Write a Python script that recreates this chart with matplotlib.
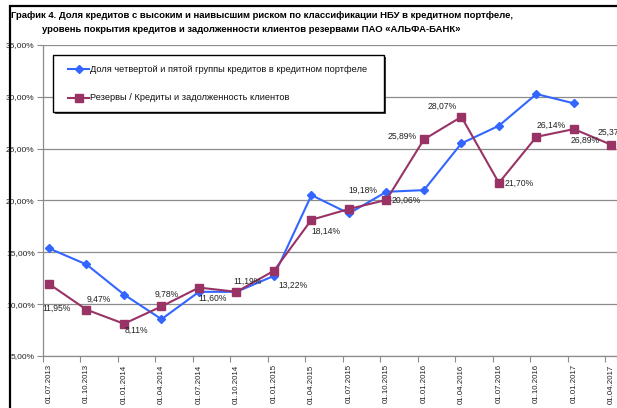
import matplotlib
matplotlib.use("Agg")
import matplotlib.pyplot as plt
from matplotlib.patches import Rectangle
from matplotlib.ticker import FixedLocator

plt.rcParams['font.family'] = ['Liberation Sans Narrow', 'Liberation Sans', 'DejaVu Sans']

# ---- data ----
dates = ["01.07.2013", "01.10.2013", "01.01.2014", "01.04.2014", "01.07.2014",
         "01.10.2014", "01.01.2015", "01.04.2015", "01.07.2015", "01.10.2015",
         "01.01.2016", "01.04.2016", "01.07.2016", "01.10.2016", "01.01.2017",
         "01.04.2017"]
share_45 = [15.38, 13.83, 10.93, 8.55, 11.19, 11.19, 12.73, 20.52, 18.75, 20.84,
            21.00, 25.51, 27.21, 30.27, 29.37]
reserves = [11.95, 9.47, 8.11, 9.78, 11.60, 11.19, 13.22, 18.14, 19.18, 20.06,
            25.89, 28.07, 21.70, 26.14, 26.89, 25.37]
series_names = ["Доля четвертой и пятой группы кредитов в кредитном портфеле",
                "Резервы / Кредиты и задолженность клиентов"]
title_lines = ["График 4. Доля кредитов с высоким и наивысшим риском по классификации НБУ в кредитном портфеле,",
               "уровень покрытия кредитов и задолженности клиентов резервами ПАО «АЛЬФА-БАНК»"]
y_ticks = [5, 10, 15, 20, 25, 30, 35]

# label offsets (pixels) for reserve data labels
lab_dx = [8, 12.5, 12, 5.5, 14, 11.5, 19, 14.5, 14, 19.5, -22, -19.5, 20, 14.5, 11, -13.5]
lab_dy = [-24, 10.7, -7, 12.5, -11, 11, -15, -12, 19, 0, 3, 11, 0, 12, -11, 13]

W, H = 617, 408
fig = plt.figure(figsize=(W / 100, H / 100), dpi=100)
ax = fig.add_axes([43 / W, (H - 356) / H, (W - 43) / W, (356 - 45) / H])

blue = '#3366FF'
purple = '#993366'
x1 = list(range(len(share_45)))
x2 = list(range(len(reserves)))
l1, = ax.plot(x1, share_45, color=blue, lw=1.5, marker='D', ms=4.5, zorder=3,
              clip_on=False, label=series_names[0])
l2, = ax.plot(x2, reserves, color=purple, lw=1.5, marker='s', ms=5.2, zorder=3,
              clip_on=False, label=series_names[1])

for i, v in enumerate(reserves):
    txt = f"{v:.2f}".replace('.', ',') + '%'
    ha = 'left' if i == len(reserves) - 1 else 'center'
    ax.annotate(txt, (i, v), xytext=(lab_dx[i], lab_dy[i]), textcoords='offset pixels',
                ha=ha, va='center', fontsize=6.2, color='#222222', annotation_clip=False)

ax.set_ylim(5, 35)
ax.set_xlim(-0.16, 15.15)
ax.set_yticks(y_ticks)
ax.set_yticklabels([f"{t:.2f}".replace('.', ',') + '%' for t in y_ticks], fontsize=6, color='#222222')
ax.yaxis.grid(True, color='#8c8c8c', lw=0.9)
ax.set_axisbelow(True)
ax.tick_params(axis='y', length=4, width=0.8, color='#8c8c8c', pad=2)

ax.set_xticks(x2)
ax.set_xticklabels(dates, rotation=90, fontsize=5.7, color='#222222')
ax.tick_params(axis='x', which='major', length=0, pad=6)
ax.xaxis.set_minor_locator(FixedLocator([k - 0.16 for k in range(16)]))
ax.tick_params(axis='x', which='minor', length=4, width=0.8, color='#8c8c8c')

for s in ['top', 'right']:
    ax.spines[s].set_visible(False)
ax.spines['left'].set_color('#8c8c8c')
ax.spines['bottom'].set_color('#8c8c8c')
ax.spines['left'].set_linewidth(0.9)
ax.spines['bottom'].set_linewidth(0.9)

# legend box with shadow
lx0, ly0, lx1, ly1 = 53, 55, 384, 112
fig.patches.append(Rectangle(((lx0 + 2) / W, (H - ly1 - 2) / H), (lx1 - lx0) / W, (ly1 - ly0) / H,
                             transform=fig.transFigure, facecolor='#404040', edgecolor='none', zorder=4))
fig.patches.append(Rectangle((lx0 / W, (H - ly1) / H), (lx1 - lx0) / W, (ly1 - ly0) / H,
                             transform=fig.transFigure, facecolor='white', edgecolor='black', lw=1, zorder=5))
for (yy, line, mk, ms, name) in [(69, l1, 'D', 4.5, series_names[0]), (98, l2, 's', 5.2, series_names[1])]:
    fy = (H - yy) / H
    fig.add_artist(plt.Line2D([68 / W, 89 / W], [fy, fy], color=line.get_color(), lw=1.5,
                              transform=fig.transFigure, zorder=6))
    fig.add_artist(plt.Line2D([78.5 / W], [fy], color=line.get_color(), marker=mk, ms=ms,
                              transform=fig.transFigure, zorder=6))
    fig.text(90 / W, fy, name, fontsize=6.7, va='center', ha='left', color='#111111', zorder=6)

# title
fig.text(11 / W, (H - 16) / H, title_lines[0], fontsize=6.8, fontweight='bold', va='center', ha='left')
fig.text(42 / W, (H - 30) / H, title_lines[1], fontsize=6.8, fontweight='bold', va='center', ha='left')

# outer frame
fig.patches.append(Rectangle((10 / W, -0.1), 1.2, (H - 6) / H + 0.1, transform=fig.transFigure,
                             facecolor='none', edgecolor='black', lw=1.6, zorder=0))

fig.savefig('out.png', dpi=100)
